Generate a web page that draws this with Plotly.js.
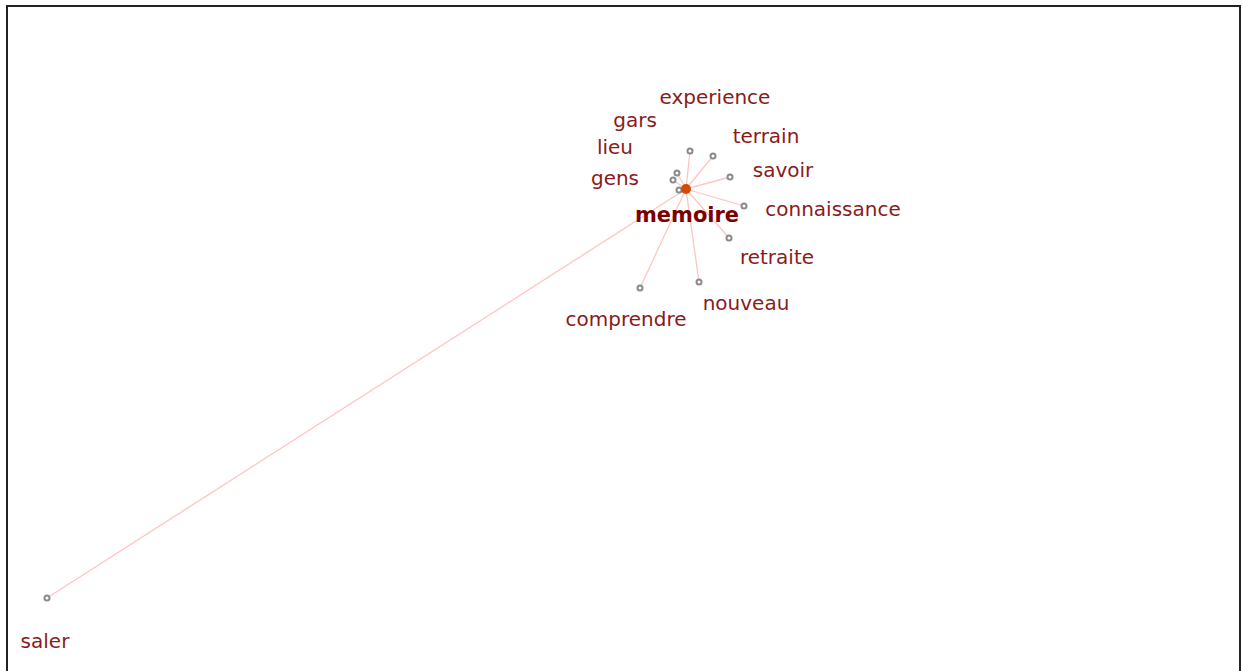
<!DOCTYPE html>
<html><head><meta charset="utf-8">
<script src="https://cdn.plot.ly/plotly-3.0.1.min.js"></script>
<style>html,body{margin:0;padding:0;background:#fff}#chart{width:1243px;height:671px}</style>
</head><body><div id="chart"></div>
<script>
// Network: central word and its associated words (layout coordinates)
const centerWord = "memoire";
const centerX = 686;
const centerY = 189;
const centerLabelX = 687;
const centerLabelY = 217;

const words   = ["experience","terrain","savoir","connaissance","retraite","nouveau","comprendre","gars","lieu","gens","saler"];
const nodeX   = [690, 713, 730, 744, 729, 699, 640, 677, 673, 679, 47];
const nodeY   = [151, 156, 177, 206, 238, 282, 288, 173, 180, 190, 598];
const labelX  = [715, 766, 783, 833, 777, 746, 626, 635, 615, 615, 45];
const labelY  = [99, 138, 172, 211, 259, 305, 321, 122, 149, 180, 643];

const ex = [], ey = [];
for (let i = 0; i < words.length; i++) {
  ex.push(centerX, nodeX[i], null);
  ey.push(centerY, nodeY[i], null);
}

const traces = [
  {type:"scatter", mode:"lines", x:ex, y:ey, hoverinfo:"skip",
   line:{color:"#ffc4c4", width:1.3}},
  {type:"scatter", mode:"markers", x:nodeX, y:nodeY, hoverinfo:"skip",
   marker:{size:5, color:"#ffffff", line:{color:"#8a8a8a", width:2}}},
  {type:"scatter", mode:"markers", x:[centerX], y:[centerY], hoverinfo:"skip",
   marker:{size:10, color:"#d24a05", line:{width:0}}},
  {type:"scatter", mode:"text", x:labelX, y:labelY, text:words, hoverinfo:"skip",
   textposition:"middle center",
   textfont:{family:"DejaVu Sans, Verdana, sans-serif", size:20, color:"#8b1a1a"}},
  {type:"scatter", mode:"text", x:[centerLabelX], y:[centerLabelY], text:["<b>"+centerWord+"</b>"], hoverinfo:"skip",
   textposition:"middle center",
   textfont:{family:"DejaVu Sans, Verdana, sans-serif", size:21, color:"#7a0000"}}
];

const layout = {
  width:1243, height:671,
  margin:{l:0,r:0,t:0,b:0},
  paper_bgcolor:"#ffffff", plot_bgcolor:"#ffffff",
  showlegend:false,
  xaxis:{range:[0,1243], visible:false, fixedrange:true},
  yaxis:{range:[671,0], visible:false, fixedrange:true},
  shapes:[
    {type:"line", xref:"paper", yref:"paper", x0:7/1243, x1:7/1243, y0:0, y1:1-6/671, line:{color:"#222", width:2}},
    {type:"line", xref:"paper", yref:"paper", x0:6/1243, x1:1241/1243, y0:1-6/671, y1:1-6/671, line:{color:"#222", width:2}},
    {type:"line", xref:"paper", yref:"paper", x0:1240/1243, x1:1240/1243, y0:0, y1:1-6/671, line:{color:"#222", width:2}}
  ]
};
Plotly.newPlot("chart", traces, layout, {displayModeBar:false, staticPlot:true});
</script></body></html>
